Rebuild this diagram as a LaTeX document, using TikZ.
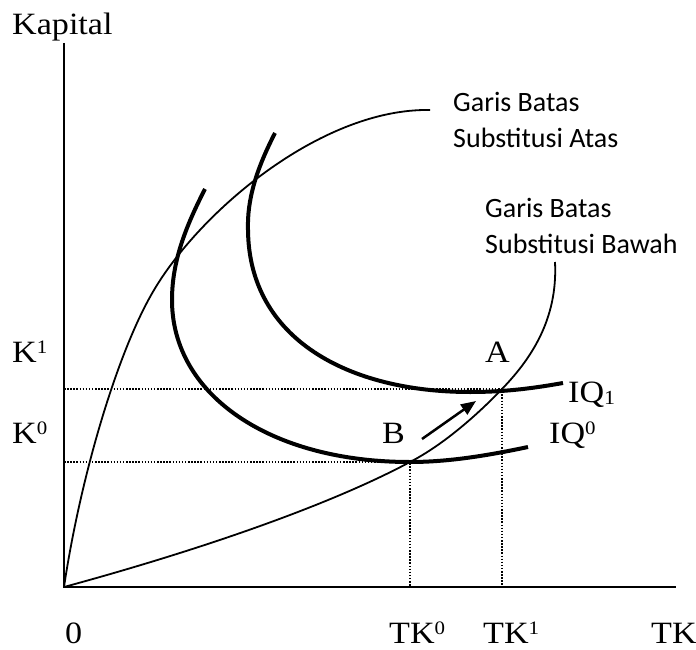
\documentclass[tikz,border=0pt]{standalone}
\usepackage{fontspec}
\setmainfont{Liberation Serif}[FakeStretch=1.1]
\newfontfamily\calfont{Carlito}
\usetikzlibrary{arrows.meta}
\newcommand\supx[1]{\raisebox{9pt}{\fontsize{19}{19}\selectfont #1}}
\newcommand\subx[1]{\raisebox{-2pt}{\fontsize{20}{20}\selectfont #1}}
\tikzset{
  lbl/.style={inner sep=0pt, anchor=base west, font=\fontsize{31}{36}\selectfont},
  gb/.style={inner sep=0pt, anchor=base west, font=\calfont\fontsize{28}{34}\selectfont},
  axis/.style={line width=2pt},
  thin/.style={line width=1.8pt},
  thick iq/.style={line width=4pt},
  guide/.style={line width=1.5pt, dash pattern=on 1.5pt off 1.6pt},
}
\begin{document}
\begin{tikzpicture}[x=1pt,y=-1pt]
\useasboundingbox (0,0) rectangle (696,650);
\coordinate (O) at (64,587);
\coordinate (ytop) at (64,43);
\coordinate (xend) at (676,587);
\coordinate (A) at (502,389);
\coordinate (B) at (410,462);
% axes
\draw[axis] (ytop) -- (O) -- (xend);
% guides
\draw[guide] (O |- A) -- (A) -- (A |- O);
\draw[guide] (O |- B) -- (B) -- (B |- O);
% upper substitution boundary
\draw[thin] (O) .. controls (80,480) and (115,360) .. (150,297)
  .. controls (195,215) and (320,108) .. (430,110);
% lower substitution boundary
\draw[thin] (O) .. controls (200,550) and (330,505) .. (B)
  .. controls (445,444) and (480,412) .. (A)
  .. controls (530,360) and (558,320) .. (555,262);
% isoquants
\draw[thick iq] (205,189) .. controls (185,228) and (172,262) .. (172,300)
  .. controls (172,395) and (270,462) .. (B)
  .. controls (450,462) and (490,455) .. (528,447);
\draw[thick iq] (275,133) .. controls (256,170) and (247,200) .. (248,230)
  .. controls (249,340) and (350,392) .. (470,392)
  .. controls (510,392) and (540,387) .. (563,383);
% arrow
\coordinate (arS) at (422,439);
\coordinate (arE) at (476,401);
\draw[line width=2.5pt, -{Triangle[length=15pt,width=12pt]}] (arS) -- (arE);
% labels
\node[lbl] (kap) at (12,35) {Kapital};
\node[lbl] (k1) at (12,362) {K\supx{1}};
\node[lbl] (k0) at (12,443) {K\supx{0}};
\node[lbl] (zero) at (65,643) {0};
\node[lbl] (tk0) at (389,643) {TK\supx{0}};
\node[lbl] (tk1) at (483,643) {TK\supx{1}};
\node[lbl] (tk) at (651,643) {TK};
\node[lbl] (la) at (485,362) {A};
\node[lbl] (lb) at (382,443) {B};
\node[lbl] (iq1) at (568,402) {IQ\subx{1}};
\node[lbl] (iq0) at (549,443) {IQ\supx{0}};
\node[gb] (ga1) at (453,112) {Garis Batas};
\node[gb] (ga2) at (453,147) {Substitusi Atas};
\node[gb] (gw1) at (485,217) {Garis Batas};
\node[gb] (gw2) at (485,253) {Substitusi Bawah};
\end{tikzpicture}
\end{document}
